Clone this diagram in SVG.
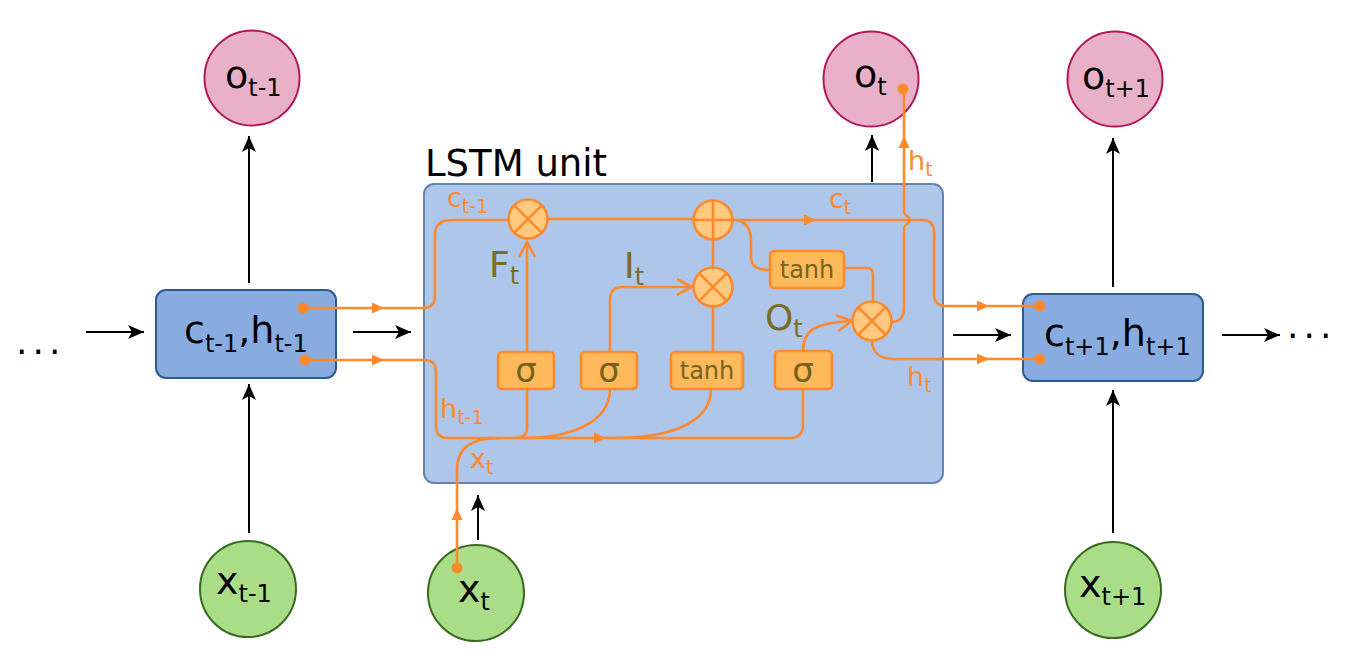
<svg xmlns="http://www.w3.org/2000/svg" xmlns:xlink="http://www.w3.org/1999/xlink" width="1355" height="660" viewBox="0 0 1355 660">
<defs>
<style>
text{font-family:"DejaVu Sans","Liberation Sans",sans-serif;}
.blk{fill:#000;}
.nlab{font-size:38px;fill:#000;}
.nsub{font-size:24px;}
.olab{font-size:27px;fill:#ff8a2e;}
.osub{font-size:19px;}
.glab{font-size:36px;fill:#7a6d22;}
.gsub{font-size:24px;}
.gtxt{fill:#736520;text-anchor:middle;}
.or{fill:none;stroke:#ff8a2e;stroke-width:2.6;}
.bl{fill:none;stroke:#000;stroke-width:2;}
.op{fill:#ffc97f;stroke:#ff8a2e;stroke-width:2.6;}
.gate{fill:#ffb95a;stroke:#ff8a2e;stroke-width:2.6;}
.dot{fill:#ff8a2e;}
.tri{fill:#ff8a2e;}
.pink{fill:#e9b1c7;stroke:#b3175b;stroke-width:2;}
.green{fill:#aadd87;stroke:#3a6a20;stroke-width:2;}
.hbox{fill:#89ace0;stroke:#2c5a92;stroke-width:2;}
</style>
<marker id="ah" markerUnits="userSpaceOnUse" markerWidth="22" markerHeight="18" viewBox="-17 -9 18 18" refX="0" refY="0" orient="auto">
<path d="M0,0 L-16,-7 L-12,0 L-16,7 Z" fill="#000"/>
</marker>
<path id="tri" d="M-6,-5.5 L6,0 L-6,5.5 Z"/>
<path id="chev" d="M-15,-8 L0,0 L-15,8" fill="none" stroke="#ff8a2e" stroke-width="2.6"/>
</defs>
<rect width="1355" height="660" fill="#fff"/>

<g id="lstm-unit">
<rect x="424" y="184" width="519" height="299" rx="10" fill="#adc6e9" stroke="#6784b1" stroke-width="2"/>
<text x="425" y="176" font-size="37" fill="#000">LSTM unit</text>
</g>

<g id="dots-left"><text x="16" y="354" font-size="36" letter-spacing="5" class="blk">...</text></g>
<g id="dots-right"><text x="1287" y="338" font-size="36" letter-spacing="5" class="blk">...</text></g>

<g id="o-prev">
<circle class="pink" cx="252" cy="78" r="47.5"/>
<text class="nlab" x="225" y="88">o<tspan class="nsub" dy="8">t-1</tspan></text>
</g>
<g id="o-cur">
<circle class="pink" cx="871" cy="79" r="47.5"/>
<text class="nlab" x="854" y="87">o<tspan class="nsub" dy="8">t</tspan></text>
</g>
<g id="o-next">
<circle class="pink" cx="1115" cy="79" r="47.5"/>
<text class="nlab" x="1082" y="89">o<tspan class="nsub" dy="8">t+1</tspan></text>
</g>

<g id="x-prev">
<circle class="green" cx="248" cy="589" r="48"/>
<text class="nlab" x="216" y="594">x<tspan class="nsub" dy="8">t-1</tspan></text>
</g>
<g id="x-cur">
<circle class="green" cx="476" cy="593" r="48"/>
<text class="nlab" x="458" y="602">x<tspan class="nsub" dy="8">t</tspan></text>
</g>
<g id="x-next">
<circle class="green" cx="1113" cy="590" r="48"/>
<text class="nlab" x="1079" y="597">x<tspan class="nsub" dy="8">t+1</tspan></text>
</g>

<g id="state-prev">
<rect class="hbox" x="156" y="290" width="180" height="88" rx="10"/>
<text class="nlab" x="184" y="343">c<tspan class="nsub" dy="9">t-1</tspan><tspan dy="-9">,h</tspan><tspan class="nsub" dy="9">t-1</tspan></text>
</g>
<g id="state-next">
<rect class="hbox" x="1023" y="294" width="180" height="87" rx="10"/>
<text class="nlab" x="1044" y="346">c<tspan class="nsub" dy="9">t+1</tspan><tspan dy="-9">,h</tspan><tspan class="nsub" dy="9">t+1</tspan></text>
</g>

<g id="connectors">
<!-- black arrows -->
<path class="bl" d="M86,332 H144" marker-end="url(#ah)"/>
<path class="bl" d="M353,332 H411" marker-end="url(#ah)"/>
<path class="bl" d="M953,335 H1011" marker-end="url(#ah)"/>
<path class="bl" d="M1222,335 H1280" marker-end="url(#ah)"/>
<path class="bl" d="M249,283 V136" marker-end="url(#ah)"/>
<path class="bl" d="M249,533 V384" marker-end="url(#ah)"/>
<path class="bl" d="M872,182 V135" marker-end="url(#ah)"/>
<path class="bl" d="M478,540 V495" marker-end="url(#ah)"/>
<path class="bl" d="M1113,287 V138" marker-end="url(#ah)"/>
<path class="bl" d="M1113,533 V390" marker-end="url(#ah)"/>

<!-- orange flows -->
<path class="or" d="M303,308 H423 Q435,308 435,296 V235 Q435,220 452,220 H508"/>
<path class="or" d="M548,219 H693"/>
<path class="or" d="M733,220 H922 Q934,220 934,232 V294 Q934,306 946,306 H1040"/>
<path class="or" d="M305,360 H424 Q436,360 436,372 V426 Q436,438 448,438 H790 Q803,438 803,425 V389"/>
<path class="or" d="M527,389 V428 Q527,438 515,438"/>
<path class="or" d="M610,389 C610,425 565,438 525,438"/>
<path class="or" d="M711,389 C711,425 665,438 615,438"/>
<path class="or" d="M457,568 V470 C457,447 472,438 500,438"/>
<path class="or" d="M527,352 V241"/>
<path class="or" d="M610,352 V300 Q610,287 623,287 H692"/>
<path class="or" d="M803,351 C803,330 815,323 852,321"/>
<path class="or" d="M713,239 V267"/>
<path class="or" d="M713,306 V352"/>
<path class="or" d="M733,220 C746,220 751,228 751,242 V256 C751,266 756,270 770,270"/>
<path class="or" d="M844,268 H867 Q873,268 873,275 V301"/>
<path class="or" d="M891,322 Q904,322 904,308 V228 C904,224 910,224 910,220 C910,216 904,216 904,212 V89"/>
<path class="or" d="M872,340 C872,352 878,359 895,359 H1040"/>

<!-- arrowheads on orange lines -->
<use href="#tri" class="tri" transform="translate(378,308)"/>
<use href="#tri" class="tri" transform="translate(378,360)"/>
<use href="#tri" class="tri" transform="translate(600,438)"/>
<use href="#tri" class="tri" transform="translate(810,220)"/>
<use href="#tri" class="tri" transform="translate(983,306)"/>
<use href="#tri" class="tri" transform="translate(983,359)"/>
<use href="#tri" class="tri" transform="translate(904,142) rotate(-90)"/>
<use href="#tri" class="tri" transform="translate(457,514) rotate(-90)"/>
<use href="#chev" transform="translate(527,242) rotate(-90)"/>
<use href="#chev" transform="translate(692,287)"/>
<use href="#chev" transform="translate(852,321) rotate(-8)"/>

<!-- dots -->
<circle class="dot" cx="303" cy="308" r="5.5"/>
<circle class="dot" cx="305" cy="360" r="5.5"/>
<circle class="dot" cx="1040" cy="306" r="5.5"/>
<circle class="dot" cx="1040" cy="359" r="5.5"/>
<circle class="dot" cx="457" cy="568" r="5.5"/>
<circle class="dot" cx="903" cy="89" r="5.5"/>

<!-- flow labels -->
<text class="olab" x="447" y="207">c<tspan class="osub" dy="6">t-1</tspan></text>
<text class="olab" x="829" y="208">c<tspan class="osub" dy="6">t</tspan></text>
<text class="olab" x="908" y="170">h<tspan class="osub" dy="6">t</tspan></text>
<text class="olab" x="907" y="386">h<tspan class="osub" dy="6">t</tspan></text>
<text class="olab" x="440" y="418">h<tspan class="osub" dy="6">t-1</tspan></text>
<text class="olab" x="470" y="468">x<tspan class="osub" dy="6">t</tspan></text>
</g>

<g id="forget-mult">
<circle class="op" cx="528" cy="219" r="19.5"/>
<path class="or" d="M514.2,205.2 L541.8,232.8 M541.8,205.2 L514.2,232.8"/>
</g>
<g id="plus">
<circle class="op" cx="713" cy="220" r="19.5"/>
<path class="or" d="M693.5,220 H732.5 M713,200.5 V239.5"/>
</g>
<g id="input-mult">
<circle class="op" cx="713" cy="287" r="19.5"/>
<path class="or" d="M699.2,273.2 L726.8,300.8 M726.8,273.2 L699.2,300.8"/>
</g>
<g id="output-mult">
<circle class="op" cx="872" cy="321" r="19.5"/>
<path class="or" d="M858.2,307.2 L885.8,334.8 M885.8,307.2 L858.2,334.8"/>
</g>

<g id="gate-forget">
<rect class="gate" x="498" y="352" width="56" height="37" rx="4"/>
<text class="gtxt" x="526" y="382" font-size="34">σ</text>
</g>
<g id="gate-input">
<rect class="gate" x="581" y="352" width="56" height="37" rx="4"/>
<text class="gtxt" x="609" y="382" font-size="34">σ</text>
</g>
<g id="gate-cand">
<rect class="gate" x="671" y="352" width="72" height="37" rx="4"/>
<text class="gtxt" x="707" y="379" font-size="24">tanh</text>
</g>
<g id="gate-output">
<rect class="gate" x="775" y="351" width="57" height="38" rx="4"/>
<text class="gtxt" x="803" y="382" font-size="34">σ</text>
</g>
<g id="tanh-cell">
<rect class="gate" x="770" y="251" width="74" height="37" rx="4"/>
<text class="gtxt" x="807" y="278" font-size="24">tanh</text>
</g>

<g id="gate-labels">
<text class="glab" x="489" y="277">F<tspan class="gsub" dy="7">t</tspan></text>
<text class="glab" x="624" y="278">I<tspan class="gsub" dy="7">t</tspan></text>
<text class="glab" x="765" y="330">O<tspan class="gsub" dy="7">t</tspan></text>
</g>
</svg>
